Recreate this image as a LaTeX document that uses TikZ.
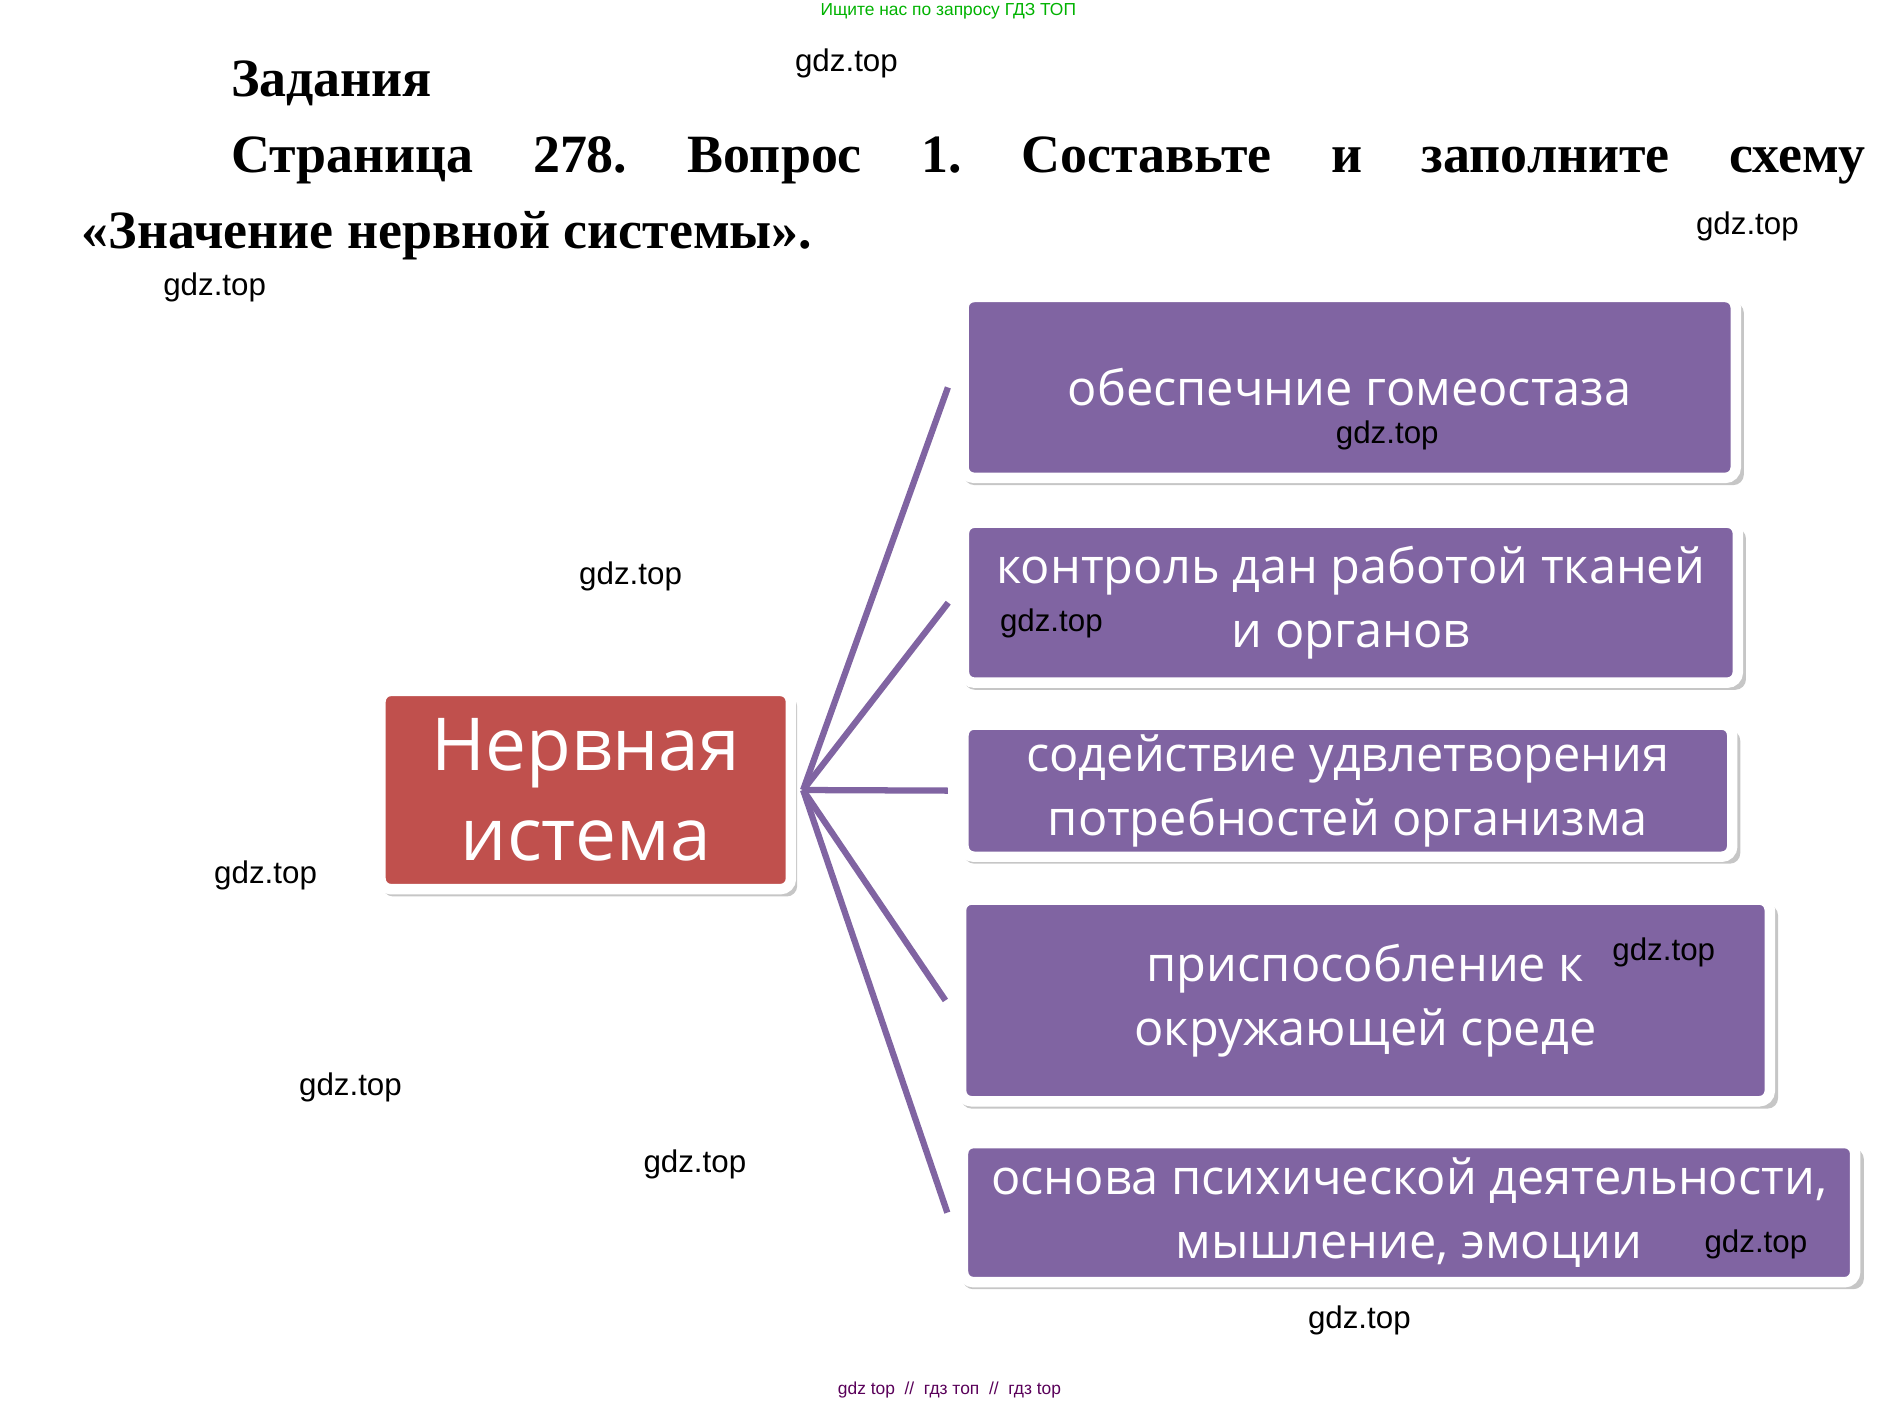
\documentclass[tikz,border=0pt]{standalone}
\usepackage{fontspec}
\setmainfont{Liberation Serif}
\newfontfamily\boxfont{Open Sans}
\newfontfamily\wmfont{Liberation Sans}
\usetikzlibrary{shadows}
\definecolor{violetbox}{HTML}{8064A2}
\definecolor{redbox}{HTML}{C0504D}
\tikzset{
  item/.style={fill=violetbox, draw=white, line width=3pt, rounded corners=3pt,
    drop shadow={opacity=0.45, shadow xshift=1.2pt, shadow yshift=-1.8pt, shadow scale=1.01},
    text=white, font=\boxfont\fontsize{14}{18.5}\selectfont, align=center, inner sep=2pt},
  link/.style={violetbox, line width=1.8pt},
  wm/.style={font=\wmfont\fontsize{9}{10}\selectfont},
}
\begin{document}
\begin{tikzpicture}[x=0.01225cm,y=-0.01225cm]
\useasboundingbox (0,0) rectangle (1566,1157);
% heading
\node[anchor=base west, font=\bfseries\fontsize{15.5}{18}\selectfont, inner sep=0pt] (title) at (190,80) {Задания};
\node[anchor=base west, font=\bfseries\fontsize{15.5}{18}\selectfont, inner sep=0pt] (task) at (190,142)
  {\makebox[470pt][s]{Страница\hfill 278.\hfill Вопрос\hfill 1.\hfill Составьте\hfill и\hfill заполните\hfill схему}};
\node[anchor=base west, font=\bfseries\fontsize{15.5}{18}\selectfont, inner sep=0pt] (task2) at (67,205) {«Значение нервной системы».};
% nodes
\node[item, fill=redbox, minimum width=118pt, minimum height=57pt, font=\boxfont\fontsize{21}{26}\selectfont] (ns) at (483,651.5) {Нервная\\истема};
\node[item, minimum width=222pt, minimum height=52pt] (b1) at (1113,319.5) {обеспечние гомеостаза};
\node[item, minimum width=222.5pt, minimum height=46pt] (b2) at (1114,497) {контроль дан работой тканей\\и органов};
\node[item, minimum width=221pt, minimum height=38pt] (b3) at (1111.5,652) {содействие удвлетворения\\потребностей организма};
\node[item, minimum width=232.5pt, minimum height=58pt] (b4) at (1126,825) {приспособление к\\окружающей среде};
\node[item, minimum width=256.5pt, minimum height=40pt] (b5) at (1162,1000) {основа психической деятельности,\\мышление, эмоции};
% links
\foreach \b in {b1,b2,b3,b4,b5}
  \draw[link] ([xshift=2pt]ns.east) -- ([xshift=-3pt]\b.west);
% watermarks
\foreach \x/\y [count=\i] in {698/52,1441/187,177/237,1144/359,520/475,867/514,219/722,1372/785,289/897,573/960,1448/1026,1121/1089}
  \node[wm] (wm\i) at (\x,\y) {gdz.top};
\node[font=\wmfont\fontsize{5}{6}\selectfont, text=green!70!black] (top) at (782,9) {Ищите нас по запросу ГДЗ ТОП};
\node[font=\wmfont\fontsize{5}{6}\selectfont, text=violet!70!black] (bottom) at (783,1146) {gdz top \ // \ гдз топ \ // \ гдз top};
\end{tikzpicture}
\end{document}
